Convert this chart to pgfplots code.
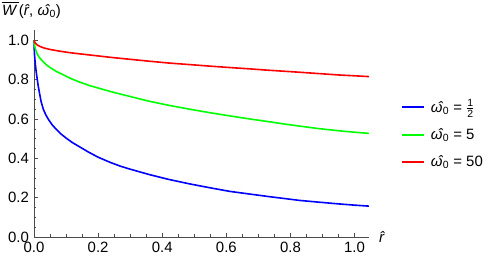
\documentclass[border=0pt]{standalone}
\usepackage{fontspec}
\setmainfont{Liberation Sans}
\usepackage{amsmath}
\usepackage{pgfplots}
\pgfplotsset{compat=1.18}
\DeclareRobustCommand{\hatit}[1]{\textit{#1\kern-0.1em\char"0302\kern0.13em}}
\DeclareRobustCommand{\om}{\hatit{ω}\textsubscript{0}}
\DeclareRobustCommand{\half}{\ensuremath{\frac{\text{1}}{\text{2}}}}
\begin{document}
\fontsize{15}{18}\selectfont
\begin{tikzpicture}
\begin{axis}[
  scale only axis, width=335bp, height=207bp,
  xmin=0, xmax=1.045, ymin=0, ymax=1.053,
  axis lines=left,
  axis line style={-, gray!60!black, line width=0.6bp},
  every outer x axis line/.append style={-},
  every outer y axis line/.append style={-},
  xtick={0,0.2,0.4,0.6,0.8,1.0},
  ytick={0,0.2,0.4,0.6,0.8,1.0},
  minor x tick num=3, minor y tick num=3,
  tick align=inside,
  major tick length=4bp, minor tick length=2.5bp,
  tick style={gray!60!black, line width=0.5bp},
  /pgf/number format/assume math mode=true,
  /pgf/number format/fixed, /pgf/number format/precision=1,
  /pgf/number format/fixed zerofill,
  ticklabel style={font=\fontsize{15}{18}\selectfont},
  clip=false,
  legend style={draw=none, fill=none, at={(1.0955,0.676)}, anchor=north west,
    font=\fontsize{15}{18}\selectfont, row sep=10bp, column sep=4bp, inner sep=0pt},
  legend cell align=left,
  legend image code/.code={\draw[#1] (0bp,0bp) -- (22bp,0bp);},
  legend entries={{\om\ = \half}, {\om\ = 5}, {\om\ = 50}},
]
\addplot[color=blue, line width=1.6bp] coordinates {
(0,1.0) (0.0005,0.965) (0.0015,0.93) (0.003,0.90) (0.0045,0.875) (0.0062,0.85)
(0.008,0.826) (0.0104,0.80) (0.013,0.77) (0.0166,0.737) (0.022,0.69)
(0.029,0.650) (0.037,0.621) (0.045,0.598) (0.057,0.570) (0.071,0.545)
(0.085,0.523) (0.102,0.501) (0.12,0.480) (0.143,0.458) (0.17,0.432)
(0.2,0.406) (0.237,0.380) (0.27,0.360) (0.3,0.345) (0.361,0.317)
(0.42,0.293) (0.486,0.270) (0.55,0.250) (0.611,0.232) (0.675,0.218)
(0.735,0.205) (0.78,0.196) (0.829,0.186) (0.89,0.177) (0.953,0.168)
(1.0,0.162) (1.045,0.157)
};
\addplot[color=green, line width=1.6bp] coordinates {
(0,1.0) (0.001,0.98) (0.003,0.965) (0.006,0.948) (0.01,0.932) (0.015,0.917)
(0.021,0.905) (0.028,0.893) (0.037,0.878) (0.05,0.862) (0.07,0.842)
(0.09,0.826) (0.115,0.806) (0.141,0.789) (0.17,0.772) (0.206,0.755)
(0.25,0.735) (0.299,0.715) (0.361,0.690) (0.42,0.670) (0.486,0.650)
(0.55,0.632) (0.611,0.616) (0.675,0.600) (0.735,0.586) (0.78,0.575)
(0.829,0.564) (0.89,0.551) (0.953,0.540) (1.0,0.533) (1.045,0.527)
};
\addplot[color=red, line width=1.6bp] coordinates {
(0,1.0) (0.002,0.992) (0.005,0.985) (0.0083,0.979) (0.013,0.974) (0.019,0.969)
(0.03,0.962) (0.05,0.954) (0.081,0.945) (0.11,0.938) (0.141,0.932)
(0.206,0.920) (0.25,0.912) (0.299,0.904) (0.361,0.894) (0.42,0.885)
(0.486,0.877) (0.55,0.869) (0.611,0.862) (0.675,0.855) (0.735,0.848)
(0.829,0.838) (0.9,0.830) (0.953,0.824) (1.0,0.820) (1.045,0.816)
};
\node[anchor=west, inner sep=0pt] at (rel axis cs:0,1) [xshift=-32bp, yshift=20bp]
  {$\overline{\mbox{\itshape W\,}}$(\hatit{r}, \om)};
\node[anchor=west, inner sep=0pt] at (rel axis cs:1,0) [xshift=10bp] {\hatit{r}};
\end{axis}
\pgfresetboundingbox
\path[use as bounding box] (-34bp,-24bp) rectangle (464bp,237bp);
\end{tikzpicture}
\end{document}
